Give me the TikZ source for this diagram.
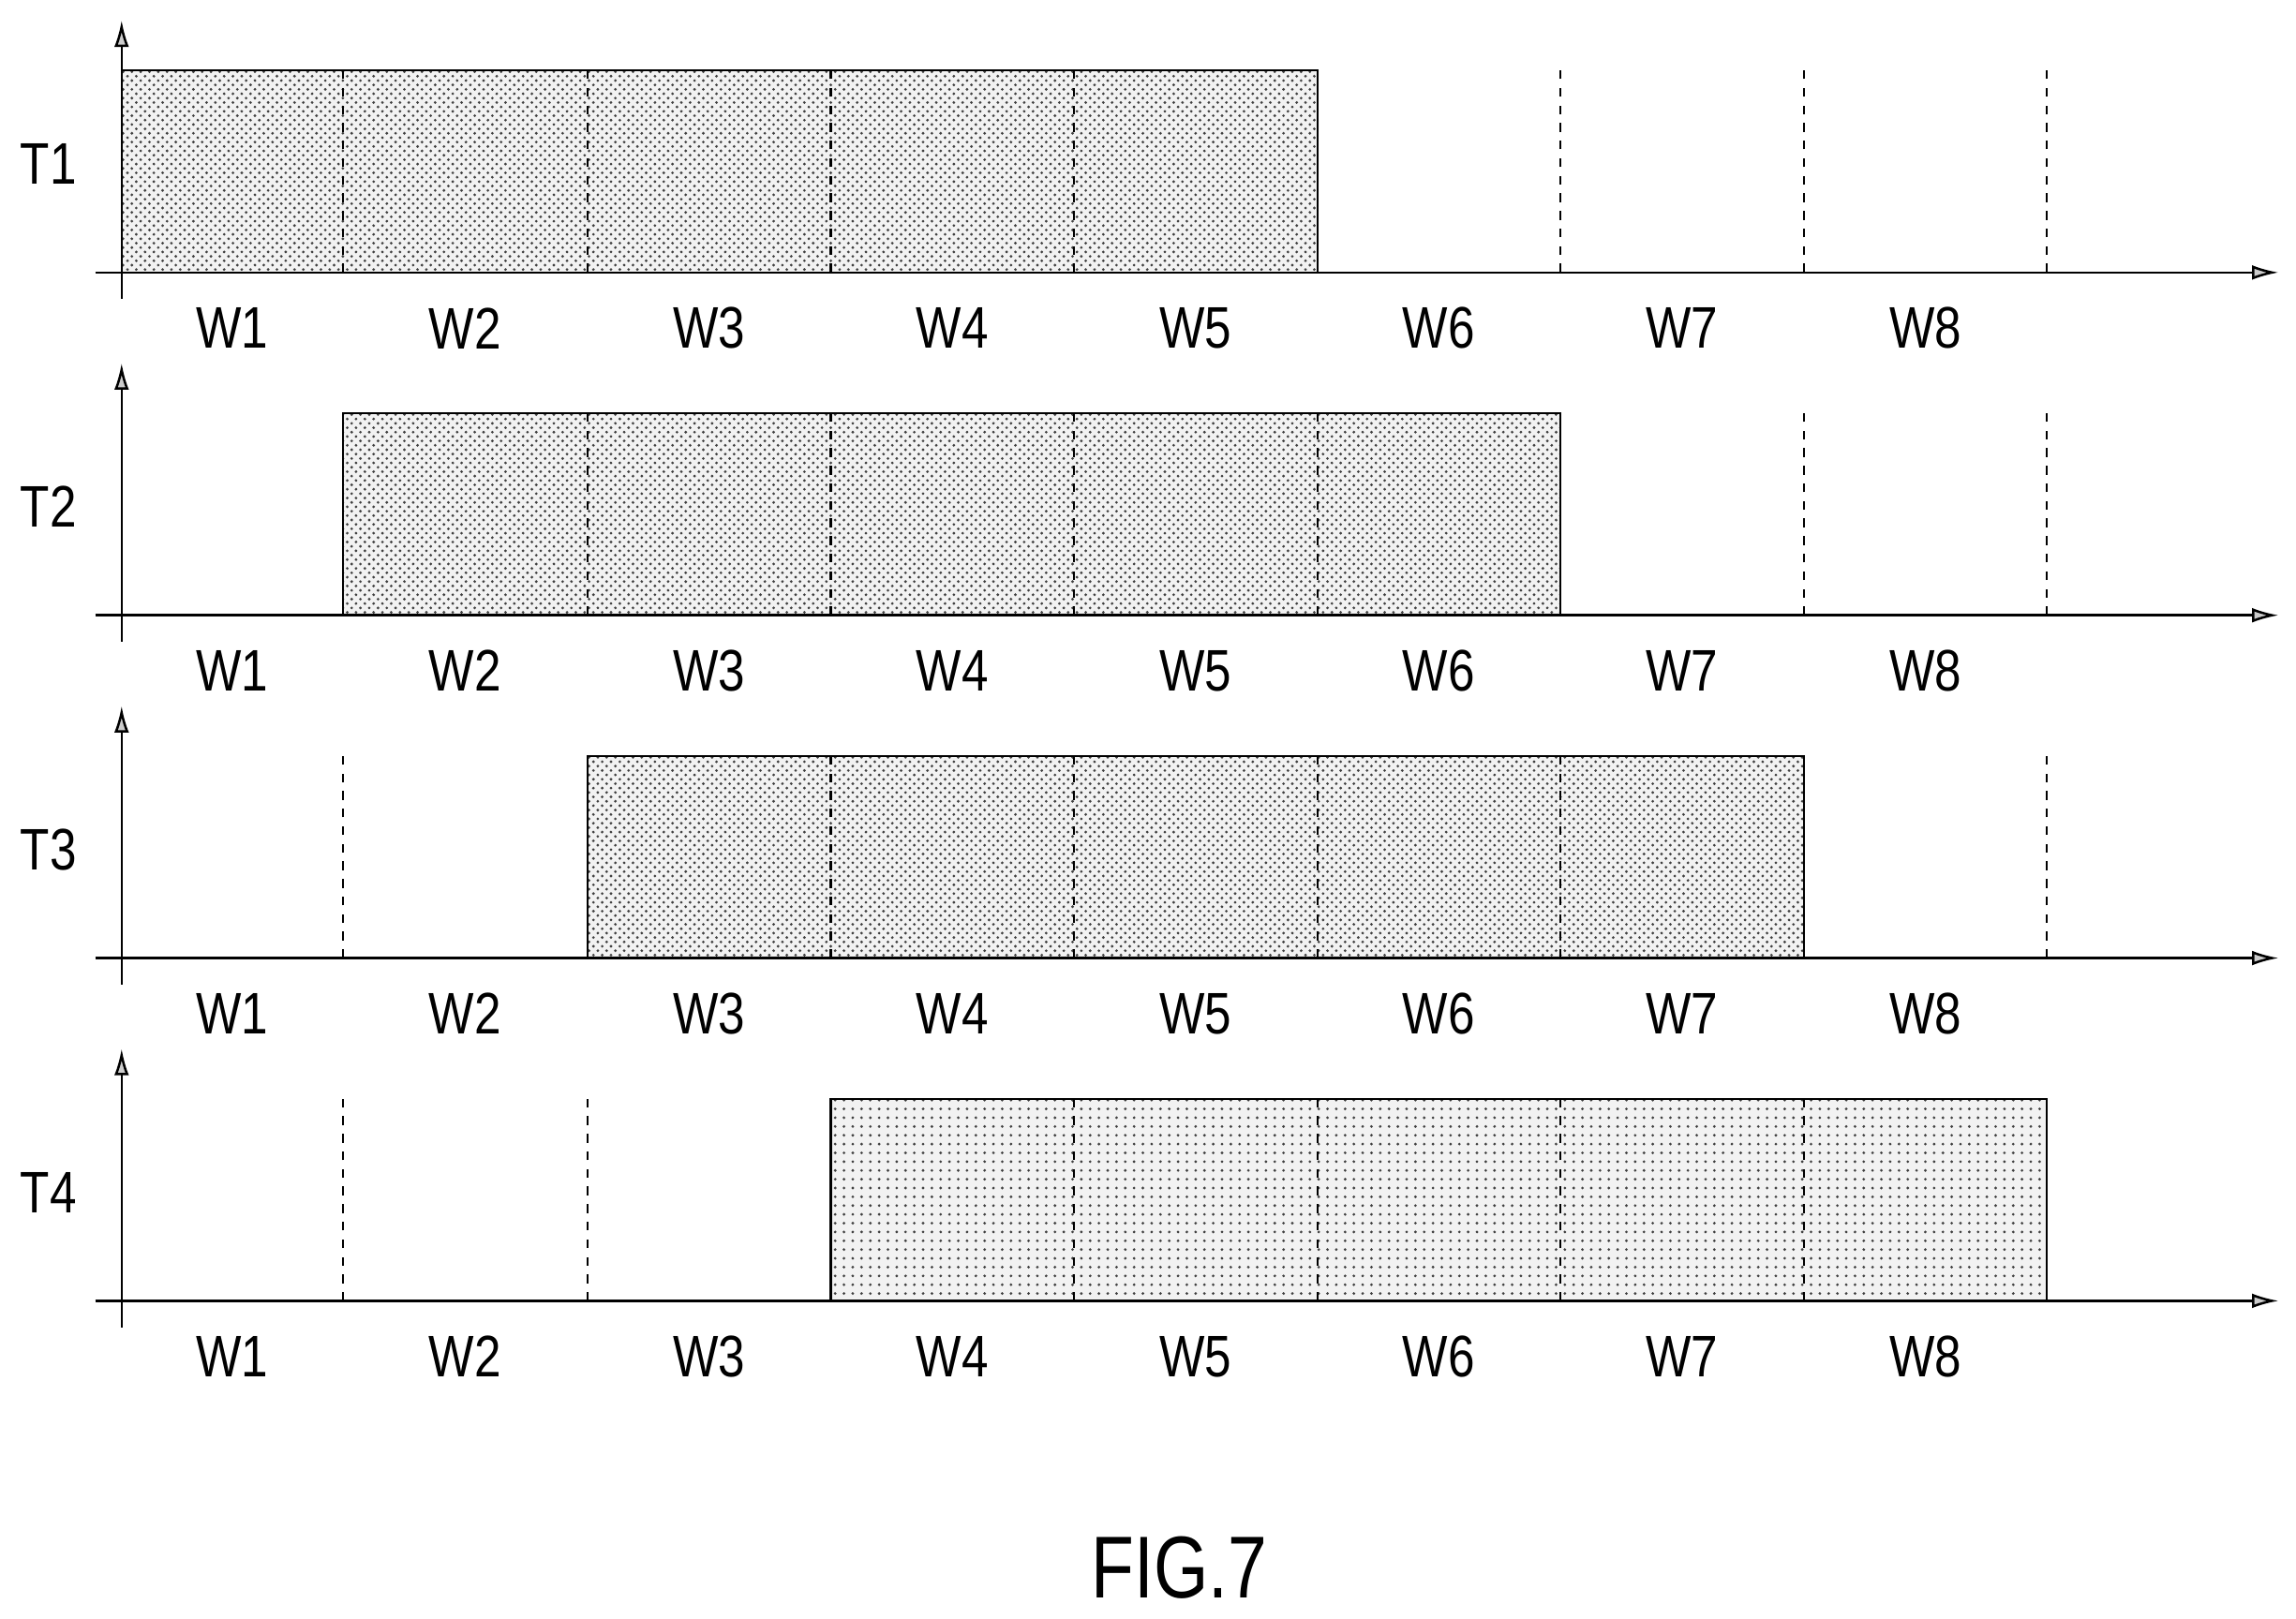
\documentclass[tikz,border=0pt]{standalone}
\usepackage{fontspec}
\setmainfont{Liberation Sans}
\usetikzlibrary{patterns,arrows.meta}
\begin{document}
\begin{tikzpicture}[x=0.5pt,y=-0.5pt,
  axis/.style={line width=0.8pt,-{Latex[length=9pt,width=5pt,fill=gray!40]}},
  div/.style={dashed,line width=0.7pt},
  wlab/.style={font=\fontsize{20}{24}\selectfont,inner sep=0pt,xscale=0.82},
  tlab/.style={font=\fontsize{20}{24}\selectfont,inner sep=0pt,xscale=0.82}]
\useasboundingbox (0,0) rectangle (1567,1105);
\def\xs{{83,234,401,567,733,899,1065,1231,1397}}
\foreach \r/\b/\s/\e/\pat in {1/186/1/5/crosshatch dots,2/420/2/6/crosshatch dots,3/654/3/7/crosshatch dots,4/888/4/8/dots}{
  \pgfmathsetmacro\top{\b-138}
  \pgfmathsetmacro\xa{\xs[\s-1]}
  \pgfmathsetmacro\xb{\xs[\e]}
  \fill[gray!10] (\xa,\top) rectangle (\xb,\b);
  \fill[pattern=\pat,pattern color=black!75] (\xa,\top) rectangle (\xb,\b);
  \draw[line width=0.7pt] (\xa,\b) -- (\xa,\top) -- (\xb,\top) -- (\xb,\b);
  \foreach \i in {1,...,8}{
    \pgfmathsetmacro\xx{\xs[\i]}
    \draw[div] (\xx,\b) -- (\xx,\top);
  }
  \draw[axis] (65,\b) -- (1555,\b);
  \draw[axis] (83,\b+18) -- (83,\b-172);
  \node[tlab] (T\r) at (33,\b-74) {T\r};
  \foreach \i in {1,...,8}{
    \pgfmathtruncatemacro\j{\i-1}
    \pgfmathsetmacro\xl{\xs[\j]}
    \pgfmathsetmacro\xr{\xs[\i]}
    \pgfmathsetmacro\xc{(\xl+\xr)/2}
    \node[wlab] (W\r\i) at (\xc,\b+38) {W\i};
  }
}
\node[font=\fontsize{30}{34}\selectfont,inner sep=0pt,xscale=0.8] (fig) at (805,1070) {FIG.7};
\end{tikzpicture}
\end{document}
